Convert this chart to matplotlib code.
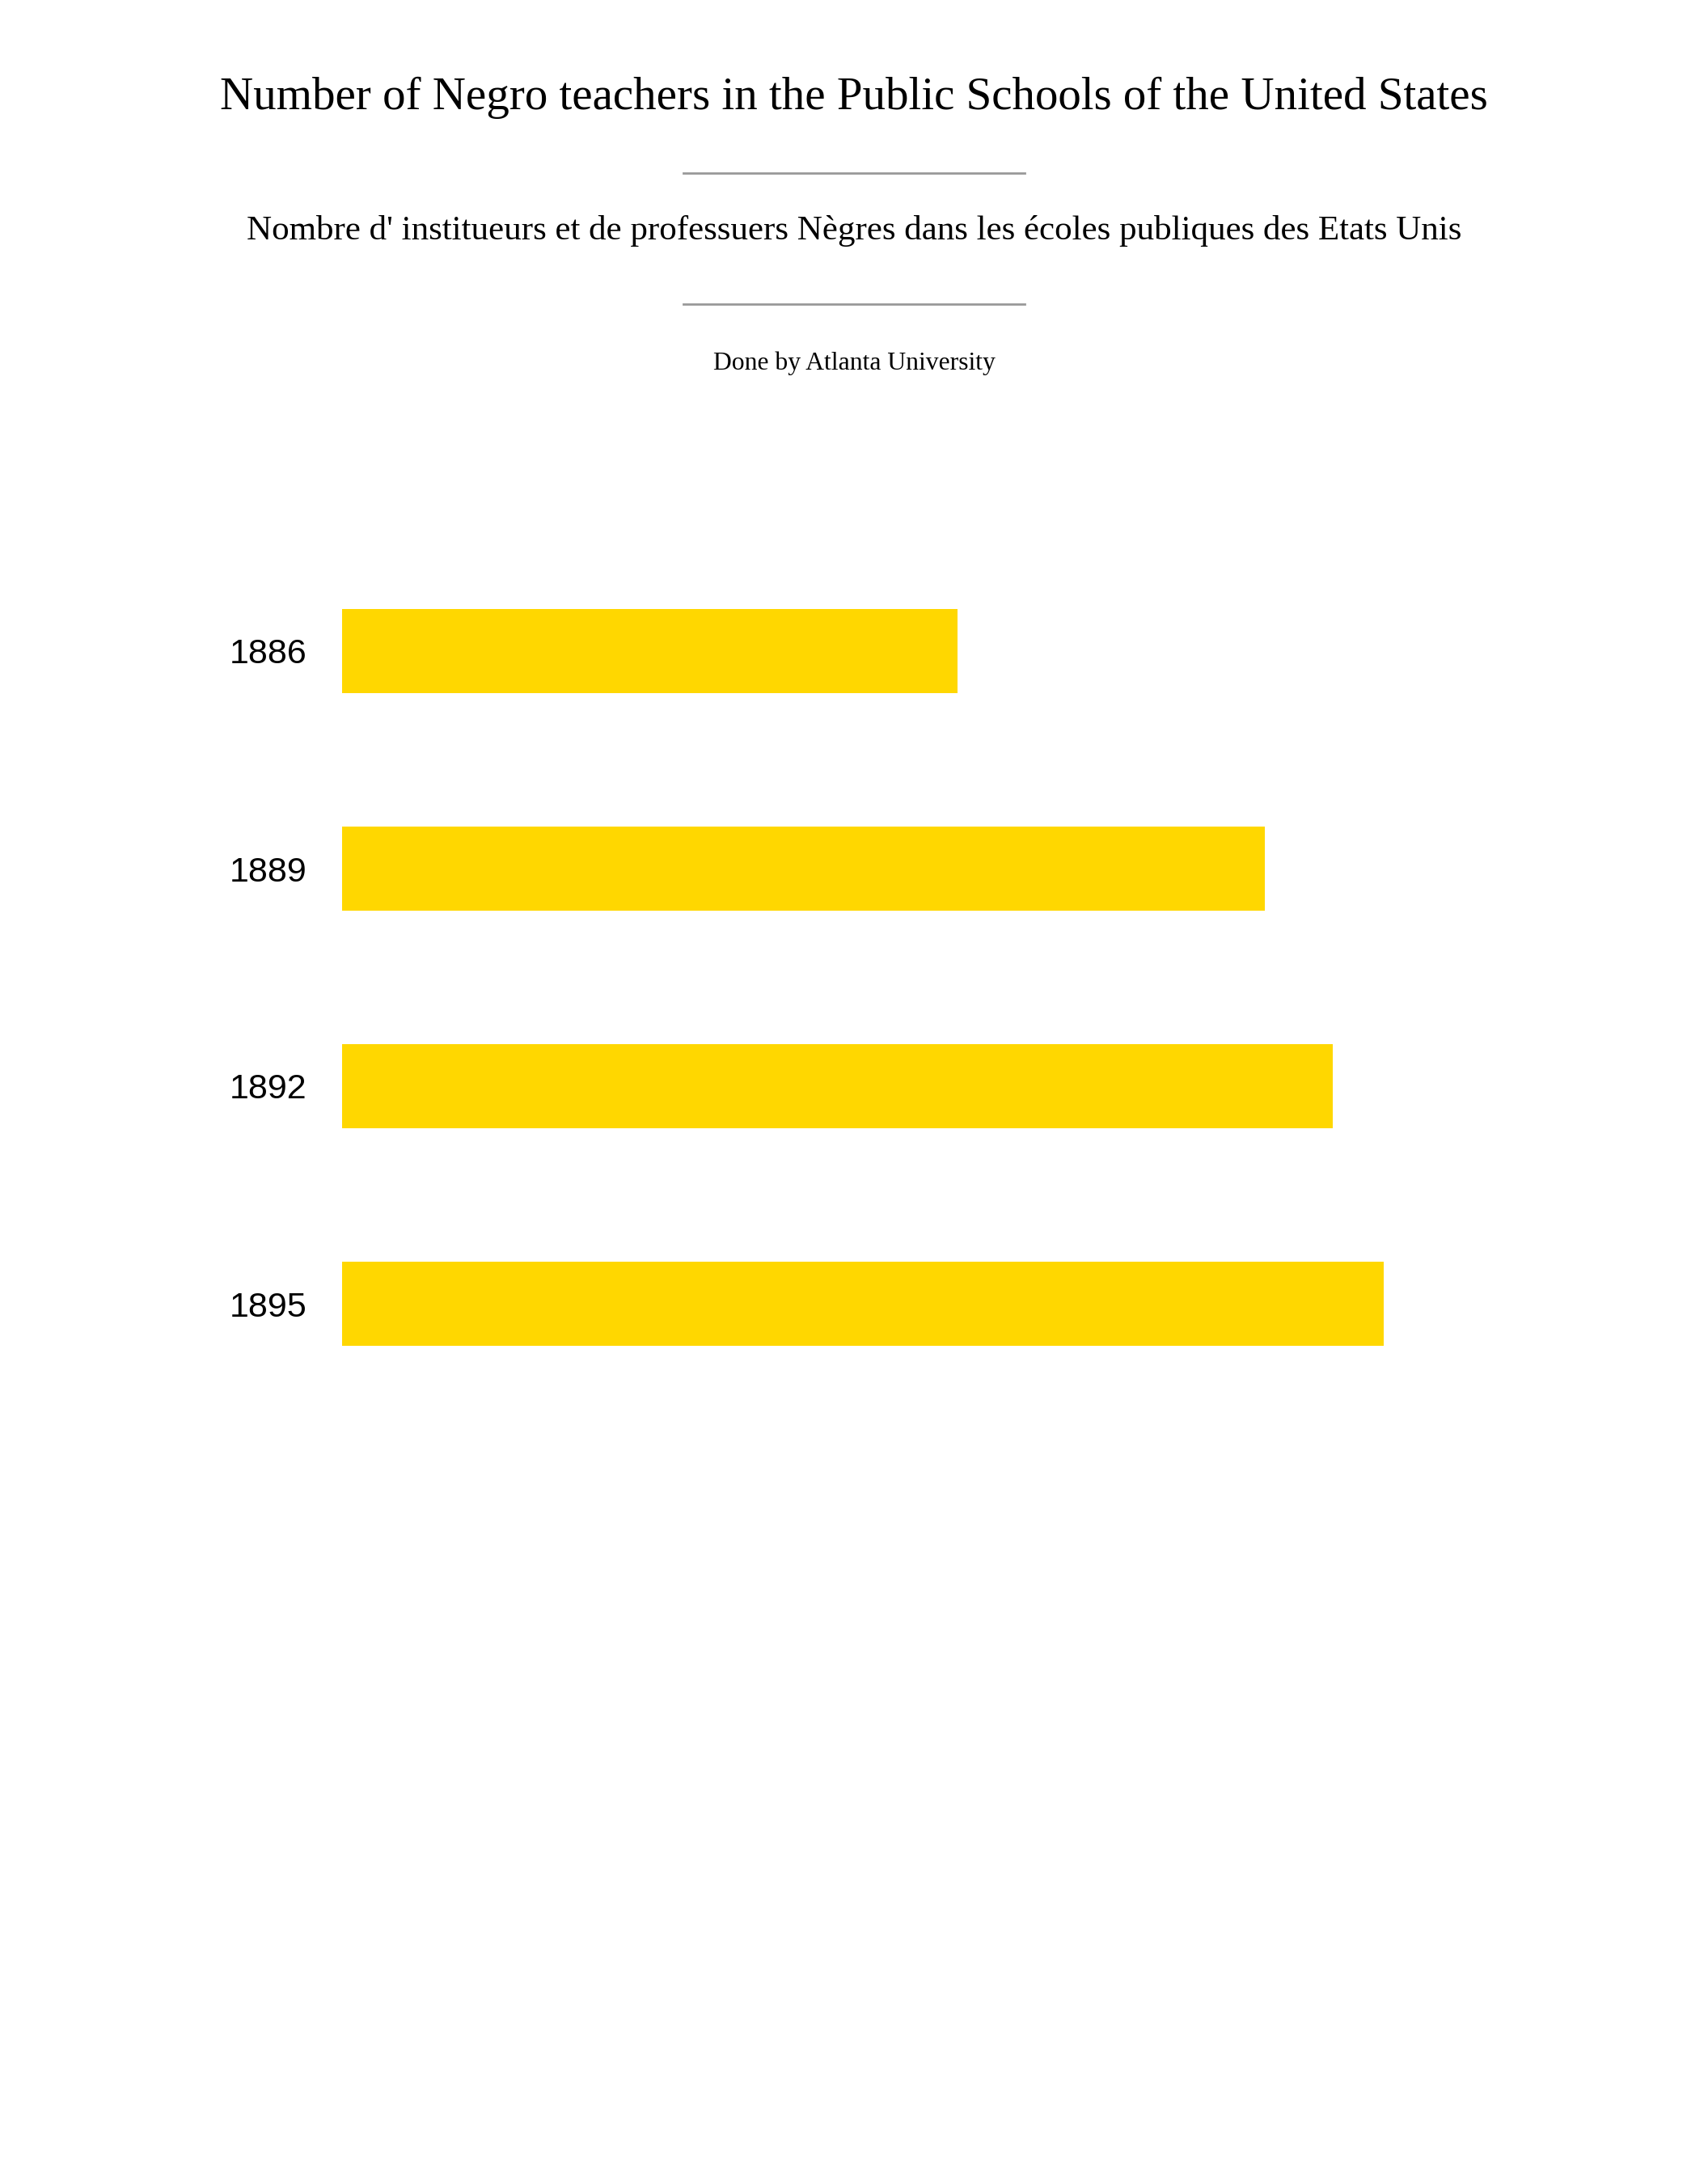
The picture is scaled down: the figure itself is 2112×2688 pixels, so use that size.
import numpy as np
import matplotlib
matplotlib.use("Agg")
from matplotlib import pyplot as plt
from matplotlib.lines import Line2D

# data
years = ["1886", "1889", "1892", "1895"]
teachers = [15000, 22480, 24130, 25380]

title = "Number of Negro teachers in the Public Schools of the United States"
subtitle = "Nombre d' institueurs et de professuers Nègres dans les écoles publiques des Etats Unis"
credit = "Done by Atlanta University"

W, H, DPI = 2112, 2688, 200
fig = plt.figure(figsize=(W / DPI, H / DPI), dpi=DPI, facecolor="white")

def fy(px):
    return 1 - px / H

# header texts
serif = ["Liberation Serif", "DejaVu Serif"]
fig.text(0.5, fy(135), title, ha="center", va="baseline",
         family=serif, fontsize=20.5, color="black")
fig.text(0.5, fy(296), subtitle, ha="center", va="baseline",
         family=serif, fontsize=15.5, color="black")
fig.text(0.5, fy(457), credit, ha="center", va="baseline",
         family=serif, fontsize=11.4, color="black")

for ypx in (214, 376):
    fig.add_artist(Line2D([845 / W, 1267 / W], [fy(ypx), fy(ypx)],
                          color="#999999", linewidth=1.0,
                          transform=fig.transFigure))

# bars
ax = fig.add_axes([423 / W, 1 - 1746.5 / H, (1711 - 423) / W, 1076 / H])
pos = np.arange(len(years))
ax.barh(pos, teachers, height=0.387, color="#FFD700")
ax.set_xlim(0, max(teachers))
ax.set_ylim(len(years) - 0.5, -0.5)
ax.set_yticks(pos)
ax.set_yticklabels(years, family="Liberation Sans", fontsize=15.5)
ax.tick_params(axis="y", length=0, pad=15.8)
ax.set_xticks([])
for s in ax.spines.values():
    s.set_visible(False)
ax.set_facecolor("none")

fig.savefig("out.png", dpi=DPI, facecolor="white")
